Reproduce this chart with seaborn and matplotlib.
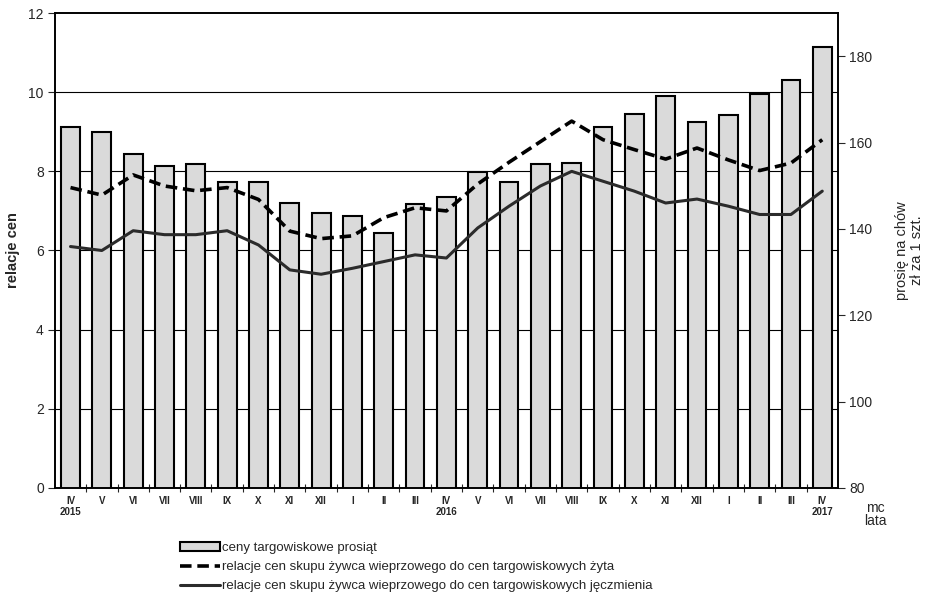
import numpy as np
import pandas as pd
import matplotlib
matplotlib.use("Agg")
import matplotlib.pyplot as plt
import seaborn as sns
from matplotlib.patches import Patch
from matplotlib.lines import Line2D

# months IV 2015 .. IV 2017
months = ["IV", "V", "VI", "VII", "VIII", "IX", "X", "XI", "XII", "I", "II", "III",
          "IV", "V", "VI", "VII", "VIII", "IX", "X", "XI", "XII", "I", "II", "III", "IV"]
years = {0: "2015", 12: "2016", 24: "2017"}

# ceny targowiskowe prosiąt, zł/szt. (right axis)
piglet_price = [163.7, 162.5, 157.3, 154.5, 155.1, 150.8, 150.8, 146.1, 143.6, 143.0, 139.0, 145.7,
                147.3, 153.2, 150.8, 155.1, 155.3, 163.6, 166.6, 170.8, 164.7, 166.4, 171.2, 174.4, 182.1]
# relacja żywiec wieprzowy / żyto
rye_ratio = [7.59, 7.40, 7.91, 7.63, 7.51, 7.59, 7.29, 6.49, 6.30, 6.37, 6.83, 7.08,
             7.00, 7.68, 8.23, 8.75, 9.27, 8.80, 8.55, 8.31, 8.59, 8.29, 8.02, 8.21, 8.80]
# relacja żywiec wieprzowy / jęczmień
barley_ratio = [6.10, 6.00, 6.50, 6.40, 6.40, 6.50, 6.14, 5.51, 5.40, 5.55, 5.72, 5.89,
                5.81, 6.57, 7.12, 7.63, 8.00, 7.75, 7.50, 7.20, 7.30, 7.12, 6.91, 6.91, 7.50]

sns.set_theme(style="white")
plt.rcParams["font.family"] = ["Liberation Sans", "DejaVu Sans"]

df = pd.DataFrame({"idx": np.arange(len(months)), "price": piglet_price,
                   "rye": rye_ratio, "barley": barley_ratio})

BAR_COLOR = "#dadada"
LEFT_LIM = (0, 12)
RIGHT_LIM = (80, 190)
DASH = (0, (3.2, 1.6))

fig = plt.figure(figsize=(9.3, 5.95), dpi=100)
ax = fig.add_axes([0.059, 0.180, 0.842, 0.798])   # left scale: relacje
ax2 = ax.twinx()                                    # right scale: prosięta

# bars (right axis), behind the lines
sns.barplot(data=df, x="idx", y="price", ax=ax2, color=BAR_COLOR, width=0.6,
            edgecolor="black", linewidth=1.5, saturation=1)
ax2.set_ylim(*RIGHT_LIM)
ax2.set_yticks([80, 100, 120, 140, 160, 180])
ax2.set_ylabel("prosię na chów\nzł za 1 szt.", fontsize=10.5, labelpad=16, linespacing=1.1)
ax2.tick_params(axis="y", direction="out", length=5, width=0.8, labelsize=10, pad=3)

# horizontal grid for left scale, drawn on bar axis so bars hide it
grid_vals = [2, 4, 6, 8, 10]
scale = (RIGHT_LIM[1] - RIGHT_LIM[0]) / (LEFT_LIM[1] - LEFT_LIM[0])
ax2.set_yticks([RIGHT_LIM[0] + v * scale for v in grid_vals], minor=True)
ax2.yaxis.grid(True, which="minor", color="black", linewidth=0.8)
ax2.tick_params(axis="y", which="minor", length=0)
ax2.set_axisbelow(True)

# lines (left axis) on top
ax.set_zorder(ax2.get_zorder() + 1)
ax.patch.set_visible(False)
sns.lineplot(data=df, x="idx", y="rye", ax=ax, color="black", linewidth=2.6, linestyle=DASH)
sns.lineplot(data=df, x="idx", y="barley", ax=ax, color="#2b2b2b", linewidth=2.2)
ax.set_ylim(*LEFT_LIM)
ax.set_yticks([0, 2, 4, 6, 8, 10, 12])
ax.set_ylabel("relacje cen", fontsize=10.5, fontweight="bold", labelpad=6)
ax.tick_params(axis="y", direction="out", length=5, width=0.8, labelsize=10, pad=3, left=True)

# x axis
ax.set_xlim(-0.5, len(months) - 0.5)
ax2.set_xlim(-0.5, len(months) - 0.5)
labels = [m + ("\n" + years[i] if i in years else "") for i, m in enumerate(months)]
ax.set_xticks(np.arange(len(months)))
ax.set_xticklabels(labels, fontsize=7, fontweight="bold", linespacing=1.05)
ax.tick_params(axis="x", which="major", length=0, pad=6)
ax.set_xticks(np.arange(len(months) - 1) + 0.5, minor=True)
ax.tick_params(axis="x", which="minor", direction="inout", length=6, width=0.8, bottom=True)
ax.set_xlabel("")
ax2.set_xlabel("")
ax2.tick_params(axis="x", length=0)

for a in (ax, ax2):
    for s in a.spines.values():
        s.set_color("black")
        s.set_linewidth(1.2)

fig.text(0.941, 0.135, "mc\nlata", ha="center", va="center", fontsize=10, linespacing=0.95)

handles = [Patch(facecolor=BAR_COLOR, edgecolor="black", linewidth=1.5),
           Line2D([], [], color="black", linewidth=2.6, linestyle=DASH),
           Line2D([], [], color="#2b2b2b", linewidth=2.2)]
texts = ["ceny targowiskowe prosiąt",
         "relacje cen skupu żywca wieprzowego do cen targowiskowych żyta",
         "relacje cen skupu żywca wieprzowego do cen targowiskowych jęczmienia"]
fig.legend(handles, texts, loc="upper left", bbox_to_anchor=(0.188, 0.098),
           frameon=False, fontsize=9.5, handlelength=3.0, handleheight=0.6,
           handletextpad=0.2, labelspacing=0.55, borderaxespad=0)

fig.savefig("out.png", dpi=100)
